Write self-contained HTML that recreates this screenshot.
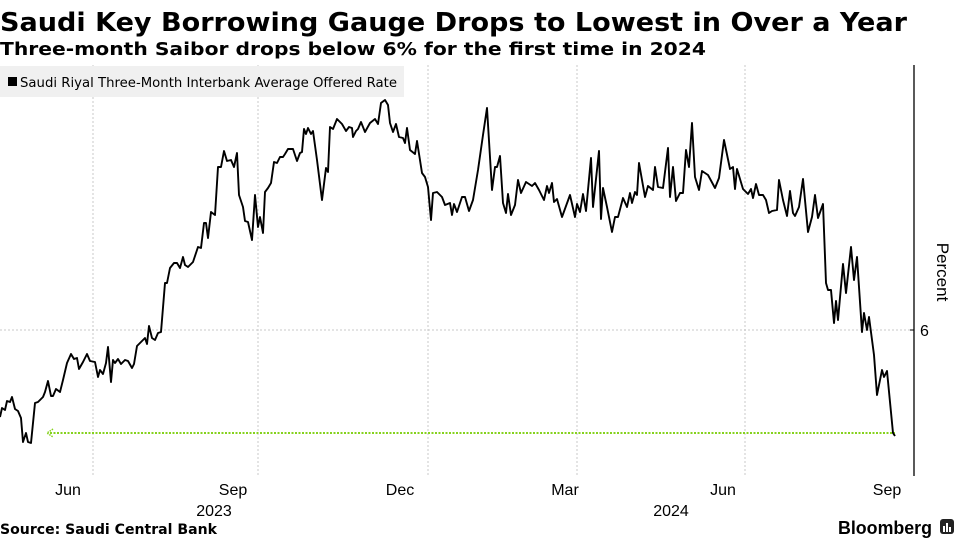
<!DOCTYPE html>
<html><head><meta charset="utf-8"><style>
html,body{margin:0;padding:0;background:#fff;}
svg{display:block;font-family:"Liberation Sans",sans-serif;}
</style></head><body>
<svg width="957" height="539" viewBox="0 0 957 539" xmlns="http://www.w3.org/2000/svg">
<text x="0" y="31" font-size="26" font-weight="bold" font-family="DejaVu Sans, sans-serif" textLength="907" lengthAdjust="spacingAndGlyphs">Saudi Key Borrowing Gauge Drops to Lowest in Over a Year</text>
<text x="0" y="55" font-size="18" font-weight="bold" font-family="DejaVu Sans, sans-serif" textLength="706" lengthAdjust="spacingAndGlyphs">Three-month Saibor drops below 6% for the first time in 2024</text>
<g stroke="#c8c8c8" stroke-width="1" stroke-dasharray="2,2">
<line x1="93" y1="65" x2="93" y2="475"/><line x1="258" y1="65" x2="258" y2="475"/><line x1="428" y1="65" x2="428" y2="475"/>
<line x1="577" y1="65" x2="577" y2="475"/><line x1="745" y1="65" x2="745" y2="475"/>
<line x1="0" y1="330" x2="914" y2="330"/>
</g>
<rect x="0" y="66" width="404" height="31" fill="#f0f0f0"/>
<rect x="8" y="77" width="9" height="9" fill="#000"/>
<text x="20" y="87" font-size="13" font-family="DejaVu Sans Condensed, DejaVu Sans, sans-serif" textLength="377" lengthAdjust="spacingAndGlyphs">Saudi Riyal Three-Month Interbank Average Offered Rate</text>
<line x1="914" y1="65" x2="914" y2="476" stroke="#000" stroke-width="1.3"/>
<line x1="910" y1="330" x2="914" y2="330" stroke="#000"/>
<text x="920" y="336" font-size="16">6</text>
<text transform="translate(937,272) rotate(90)" font-size="17" text-anchor="middle">Percent</text>
<line x1="50" y1="433" x2="895" y2="433" stroke="#86d21e" stroke-width="2" stroke-dasharray="2,1.5"/>
<polyline points="53,429 47,433 53,437" fill="none" stroke="#86d21e" stroke-width="1.5" stroke-dasharray="1.5,1"/>
<polyline fill="none" stroke="#000" stroke-width="1.9" stroke-linejoin="round" points="0,417 2,408 5,410 7,401 10,402 12,397 15,409 18,411 21,418 23,442 26,433 28,442 31,443 35,403 38,402 43,397 45,392 48,381 51,396 53,396 56,389 60,392 63,380 67,363 71,354 74,359 77,358 79,369 83,362 87,354 90,361 95,362 98,377 100,370 103,374 106,363 108,347 111,382 113,360 115,363 118,359 121,364 125,360 128,361 132,368 134,364 137,346 141,342 145,338 147,344 149,326 152,338 155,340 158,333 161,332 165,283 167,283 170,268 174,263 177,263 180,268 183,257 185,265 188,267 193,262 198,247 201,248 204,223 206,223 208,238 211,212 215,215 218,167 221,167 224,151 227,161 231,160 234,167 237,153 239,195 243,207 245,221 248,222 252,240 255,195 258,227 260,217 263,233 265,192 268,188 271,183 274,162 277,163 280,157 283,157 285,154 288,149 293,149 297,161 300,153 302,152 304,129 306,134 308,128 311,134 313,131 317,160 322,200 326,168 328,172 330,127 333,129 337,119 342,124 346,131 349,127 352,128 353,137 356,131 358,129 361,122 365,132 370,123 375,119 378,124 381,103 385,100 388,105 390,123 393,132 396,124 399,137 403,138 405,143 407,128 410,150 415,154 417,141 422,173 425,177 428,187 431,220 433,193 437,192 442,197 445,205 450,203 452,215 454,204 457,212 462,197 465,197 469,211 473,200 478,170 483,135 487,108 492,190 495,167 497,167 500,156 503,203 506,213 508,194 511,215 515,205 518,180 521,193 526,182 532,186 535,183 539,190 544,200 547,186 549,193 552,183 554,202 557,199 562,217 570,195 575,217 577,204 580,212 583,194 586,211 591,158 593,207 599,151 601,219 603,188 607,207 612,232 615,217 618,217 623,198 627,207 630,193 632,203 635,192 637,195 639,163 645,197 648,186 653,190 655,167 658,187 663,188 668,148 670,197 673,167 676,201 680,193 683,193 686,150 689,167 692,123 695,177 699,190 702,171 708,175 715,188 719,178 724,140 730,169 733,167 735,189 737,169 743,189 748,194 751,189 753,198 756,184 759,195 763,195 766,200 769,213 772,211 777,210 779,180 783,200 787,216 790,191 793,213 795,216 799,207 803,179 808,232 812,217 815,195 818,218 823,204 826,283 828,290 831,290 834,323 836,301 838,320 843,264 846,293 851,247 854,280 857,257 862,332 864,313 867,330 869,317 874,355 877,395 882,370 884,377 887,371 893,433 895,436"/>
<g font-size="16" text-anchor="middle" fill="#000">
<text x="68" y="495">Jun</text><text x="233" y="495">Sep</text><text x="400" y="495">Dec</text>
<text x="565" y="495">Mar</text><text x="723" y="495">Jun</text><text x="887" y="495">Sep</text>
<text x="214" y="516">2023</text><text x="671" y="516">2024</text>
</g>
<text x="0" y="534" font-size="14" font-weight="bold" font-family="DejaVu Sans, sans-serif" textLength="217" lengthAdjust="spacingAndGlyphs">Source: Saudi Central Bank</text>
<text x="838" y="534" font-size="18" font-weight="bold" textLength="94" lengthAdjust="spacingAndGlyphs">Bloomberg</text>
<rect x="940" y="519" width="14" height="15" rx="3" fill="#222"/>
<rect x="943" y="526" width="2" height="6" fill="#fff"/><rect x="946" y="523" width="2" height="9" fill="#fff"/><rect x="949" y="527" width="2" height="5" fill="#fff"/>
</svg>
</body></html>
